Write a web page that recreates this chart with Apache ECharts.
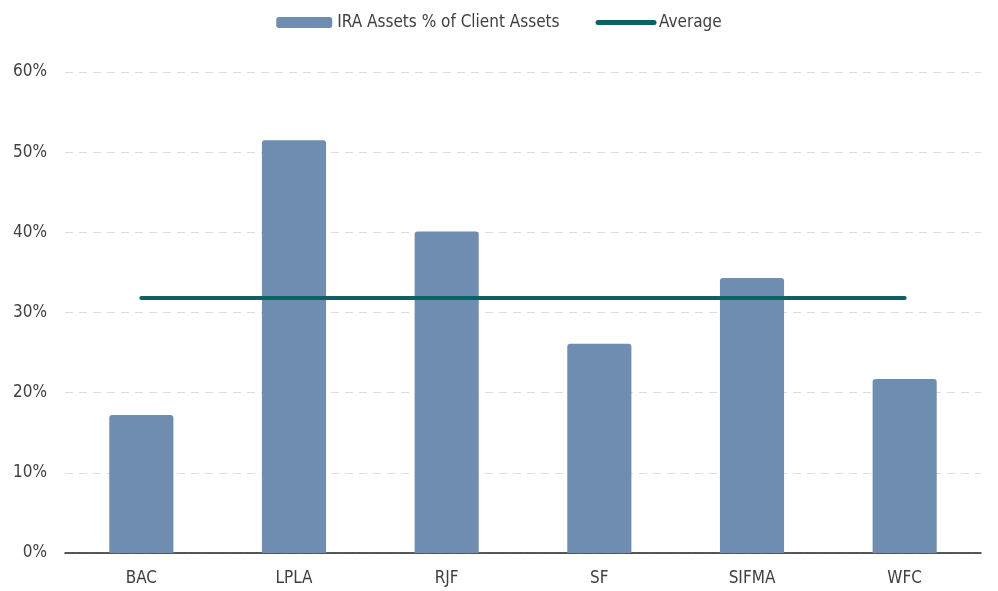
<!DOCTYPE html>
<html>
<head>
<meta charset="utf-8">
<script src="https://cdn.jsdelivr.net/npm/echarts@6/dist/echarts.min.js"></script>
<style>
  html, body { margin: 0; padding: 0; background: #fff; }
  #chart { width: 998px; height: 591px; }
</style>
</head>
<body>
<div id="chart"></div>
<script>
const categories = ['BAC', 'LPLA', 'RJF', 'SF', 'SIFMA', 'WFC']
const iraShare = [17.2, 51.5, 40.1, 26.1, 34.3, 21.7]
const averageValue = 31.8
const averageLine = categories.map(() => averageValue)

const font = "'Liberation Sans Narrow', 'DejaVu Sans Condensed', 'Roboto', sans-serif"
const textColor = '#404040'

const chart = echarts.init(document.getElementById('chart'))
chart.setOption({
  animation: false,
  textStyle: { fontFamily: font },
  legend: {
    top: 9,
    left: 'center',
    itemWidth: 56,
    itemHeight: 11,
    itemGap: 36,
    textStyle: { color: textColor, fontSize: 17, fontFamily: font },
    data: [
      { name: 'IRA Assets % of Client Assets', icon: 'roundRect' },
      { name: 'Average', itemStyle: { opacity: 0 }, lineStyle: { width: 5, cap: 'round' } }
    ]
  },
  grid: { left: 65, right: 17, top: 72, bottom: 38 },
  xAxis: {
    type: 'category',
    data: categories,
    axisLine: { lineStyle: { color: '#222', width: 1.5 } },
    axisTick: { show: false },
    axisLabel: { color: textColor, fontSize: 17, margin: 17, fontFamily: font }
  },
  yAxis: {
    type: 'value',
    min: 0,
    max: 60,
    interval: 10,
    axisLine: { show: false },
    axisTick: { show: false },
    axisLabel: { color: textColor, fontSize: 17, margin: 18, formatter: '{value}%', fontFamily: font },
    splitLine: { lineStyle: { color: '#dcdcdc', type: [8, 6], width: 1 } }
  },
  series: [
    {
      name: 'IRA Assets % of Client Assets',
      type: 'bar',
      data: iraShare,
      barWidth: '42%',
      itemStyle: { color: '#6f8db1', borderRadius: [3, 3, 0, 0] }
    },
    {
      name: 'Average',
      type: 'line',
      data: averageLine,
      symbol: 'none',
      lineStyle: { color: '#0d6164', width: 4, cap: 'round' },
      itemStyle: { color: '#0d6164' }
    }
  ]
})
</script>
</body>
</html>
